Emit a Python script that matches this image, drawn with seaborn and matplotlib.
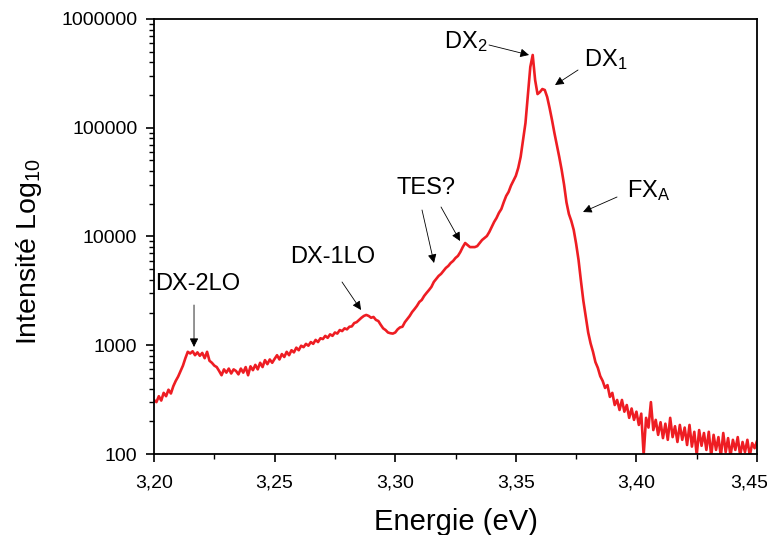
import numpy as np
import pandas as pd
import matplotlib
matplotlib.use("Agg")
import matplotlib.pyplot as plt
import matplotlib.transforms as mtransforms
import seaborn as sns
from matplotlib.ticker import FuncFormatter, MultipleLocator, LogLocator, NullFormatter

# Energy grid (eV), one sample every 1 meV from 3.200 to 3.450
energy = np.round(np.arange(3200, 3451) / 1000.0, 3)

# Intensity (counts), one value per energy sample
intensity = [
    314, 300, 340, 310, 365, 340, 390, 360, 420, 470,
    515, 580, 650, 760, 870, 840, 880, 810, 860, 800,
    850, 760, 870, 720, 690, 650, 630, 580, 530, 600,
    560, 610, 550, 600, 580, 540, 610, 560, 630, 530,
    640, 590, 660, 600, 690, 630, 730, 670, 740, 690,
    750, 810, 740, 830, 780, 870, 810, 900, 860, 950,
    900, 990, 960, 1030, 990, 1070, 1030, 1120, 1070, 1160,
    1140, 1220, 1170, 1260, 1220, 1310, 1280, 1380, 1350, 1430,
    1400, 1480, 1490, 1600, 1630, 1710, 1790, 1860, 1900, 1860,
    1790, 1820, 1710, 1670, 1540, 1430, 1380, 1310, 1290, 1280,
    1310, 1400, 1460, 1480, 1630, 1740, 1860, 2020, 2150, 2300,
    2500, 2610, 2840, 3030, 3220, 3440, 3820, 4070, 4340, 4530,
    4820, 5140, 5360, 5710, 5960, 6350, 6630, 7200, 7990, 8710,
    8350, 7990, 7990, 7990, 8160, 8710, 9280, 9690, 10100, 11000,
    12200, 13600, 14800, 16500, 17900, 20700, 23600, 25700, 29400, 32600,
    36100, 42700, 54000, 77100, 110600, 200000, 362000, 466700, 275000, 204000,
    213000, 227000, 222300, 191700, 152000, 117800, 89500, 69400, 53900, 41000,
    30000, 20600, 16100, 13900, 11500, 8580, 6090, 3900, 2560, 1820,
    1310, 1040, 870, 700, 620, 520, 470, 405, 430, 335,
    365, 282, 314, 254, 314, 245, 282, 215, 262, 206,
    245, 185, 235, 98, 215, 175, 300, 166, 206, 150,
    196, 140, 190, 135, 215, 143, 180, 129, 185, 135,
    175, 121, 185, 117, 160, 98, 166, 119, 156, 109,
    160, 96, 150, 109, 143, 95, 156, 104, 140, 96,
    135, 109, 143, 97, 129, 104, 135, 96, 126, 113,
    132,
]

x_ticks = [3.20, 3.25, 3.30, 3.35, 3.40, 3.45]
y_ticks = [100, 1000, 10000, 100000, 1000000]

annot_labels = ["DX$_2$", "DX$_1$", "FX$_A$", "TES?", "DX-1LO", "DX-2LO"]

df = pd.DataFrame({"Energie": energy, "Intensite": intensity})

sns.set_theme(style="ticks")
plt.rcParams["font.family"] = ["Liberation Sans", "DejaVu Sans"]
plt.rcParams["mathtext.default"] = "regular"

fig = plt.figure(figsize=(7.67, 5.35), dpi=100)
ax = fig.add_axes([0.2008, 0.1514, 0.7862, 0.8131])

sns.lineplot(data=df, x="Energie", y="Intensite", ax=ax, color="#EE1D23",
             lw=1.9, estimator=None, sort=False)

ax.set_yscale("log")
ax.set_xlim(3.20, 3.45)
ax.set_ylim(100, 1000000)
ax.set_xticks(x_ticks)
ax.xaxis.set_minor_locator(MultipleLocator(0.025))
ax.xaxis.set_major_formatter(FuncFormatter(lambda v, p: f"{v:.2f}".replace(".", ",")))
ax.set_yticks(y_ticks)
ax.yaxis.set_major_formatter(FuncFormatter(lambda v, p: f"{int(round(v))}"))
ax.yaxis.set_minor_locator(LogLocator(base=10, subs=np.arange(2, 10)))
ax.yaxis.set_minor_formatter(NullFormatter())

ax.tick_params(axis="both", which="major", direction="out", length=6, width=1.2,
               labelsize=14, color="black", labelcolor="black")
ax.tick_params(axis="x", which="major", pad=9)
ax.tick_params(axis="y", which="major", pad=6)
ax.tick_params(axis="both", which="minor", direction="out", length=3.5, width=1.0,
               color="black")
ax.tick_params(top=False, right=False, which="both")
for s in ax.spines.values():
    s.set_visible(True)
    s.set_linewidth(1.3)
    s.set_color("black")

ax.set_xlabel("Energie (eV)", fontsize=21, color="black")
ax.set_ylabel("Intensité Log$_{10}$", fontsize=20.5, color="black")
ax.xaxis.set_label_coords(0.5, -0.125)
ax.yaxis.set_label_coords(-0.183, 0.465)

# keep the last x tick label inside the canvas
fig.canvas.draw()
last = ax.get_xticklabels()[-1]
last.set_transform(last.get_transform() +
                   mtransforms.ScaledTranslation(-8 / 100, 0, fig.dpi_scale_trans))

def px2data(px, py):
    e = 3.20 + (px - 154) / 2412.0
    i = 10 ** (6 - (py - 19) / 108.75)
    return e, i

arrow_kw = dict(arrowstyle="-|>", color="black", lw=0.6, mutation_scale=13,
                shrinkA=0, shrinkB=0)

def annotate(label, text_px, tail_px, tip_px, ha="left"):
    ax.text(*px2data(*text_px), label, fontsize=17, ha=ha, va="center", color="black")
    ax.annotate("", xy=px2data(*tip_px), xytext=px2data(*tail_px), arrowprops=arrow_kw)

annotate(annot_labels[0], (444, 42), (489, 45), (529, 55))
annotate(annot_labels[1], (584, 60), (578, 70), (555, 85))
annotate(annot_labels[2], (627, 191), (617, 197), (583, 212))
ax.text(*px2data(396, 188), annot_labels[3], fontsize=17, ha="left", va="center", color="black")
ax.annotate("", xy=px2data(434, 263), xytext=px2data(422, 210), arrowprops=arrow_kw)
ax.annotate("", xy=px2data(460, 241), xytext=px2data(441, 207), arrowprops=arrow_kw)
annotate(annot_labels[4], (290, 257), (342, 282), (361, 310))
annotate(annot_labels[5], (155, 284), (194, 305), (194, 347))

fig.savefig("out.png", dpi=100)
